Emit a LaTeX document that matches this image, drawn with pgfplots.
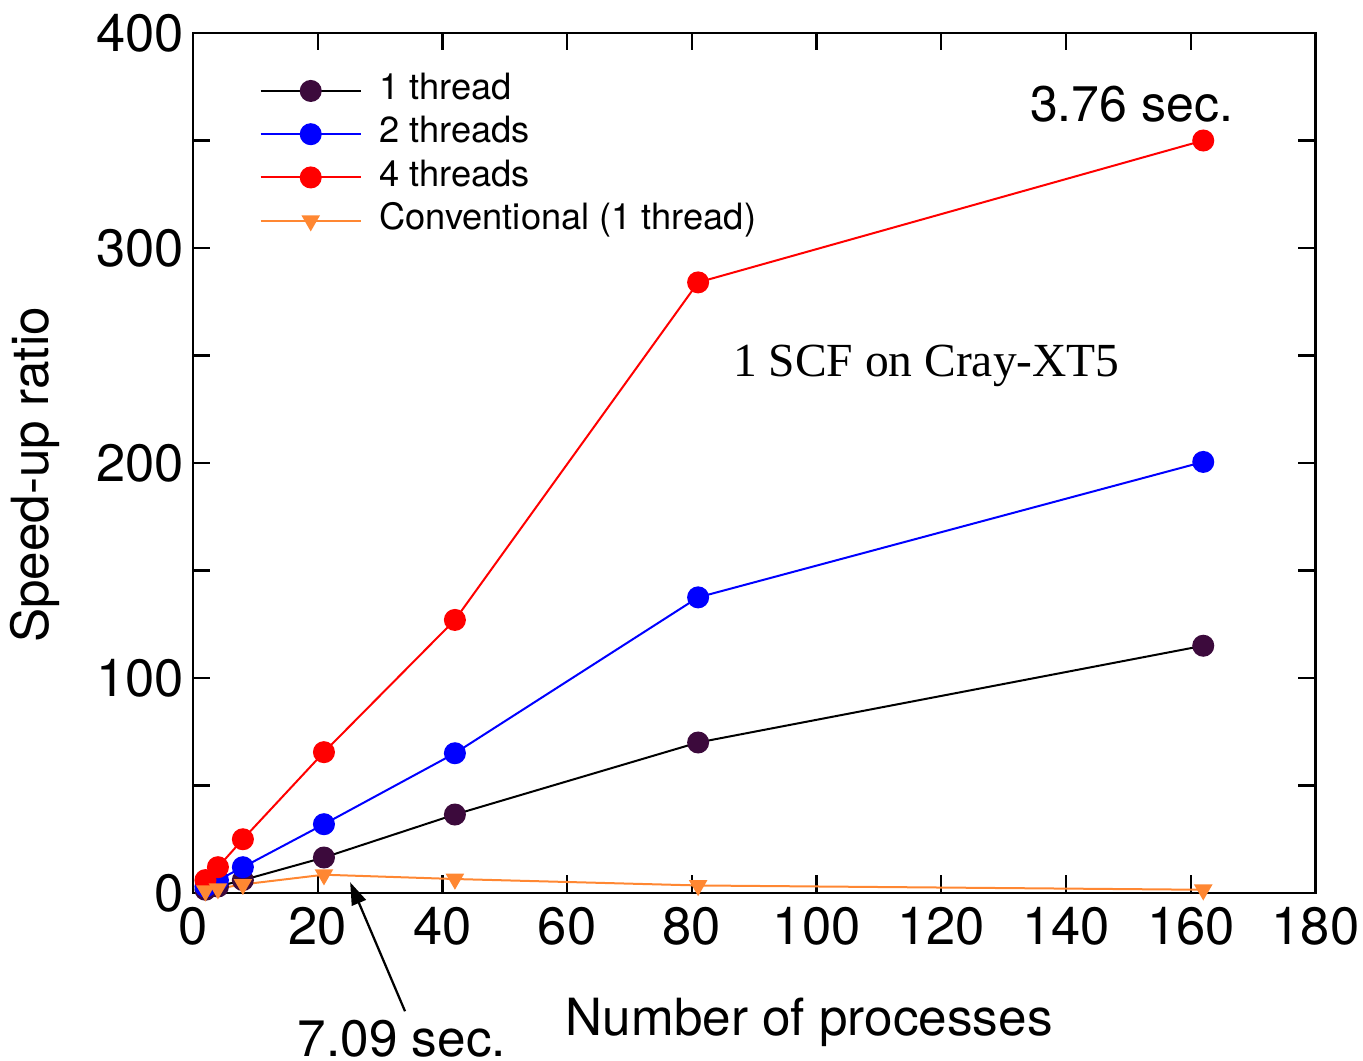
\documentclass[border=0pt]{standalone}
\usepackage{pgfplots}
\pgfplotsset{compat=1.18}
\usetikzlibrary{arrows.meta}
\usepackage{fontspec}
\setmainfont{TeX Gyre Heros}
\newfontfamily\timesfont{Liberation Serif}
\definecolor{dpurple}{RGB}{60,10,60}
\definecolor{corange}{RGB}{255,135,50}
\begin{document}
\begin{tikzpicture}
\begin{axis}[name=ax,
  scale only axis, width=449pt, height=344pt,
  xmin=0, xmax=180, ymin=0, ymax=400,
  xtick={0,20,...,180}, ytick={0,100,...,400},
  minor ytick={50,150,250,350},
  tick align=inside, major tick length=7pt, minor tick length=7pt,
  axis line style={line width=0.9pt}, every tick/.style={line width=0.9pt, black},
  /pgf/number format/assume math mode=true,
  tick label style={font=\fontsize{21}{24}\selectfont},
  xticklabel style={yshift=-2pt},
  xlabel={Number of processes}, ylabel={Speed-up ratio},
  xlabel style={font=\fontsize{20.5}{24}\selectfont, at={(axis description cs:0.549,-0.15)}, anchor=center},
  ylabel style={font=\fontsize{20.5}{24}\selectfont, at={(axis description cs:-0.141,0.486)}, anchor=center},
  legend style={draw=none, fill=none, at={(axis description cs:0.059,0.955)}, anchor=north west,
    font=\fontsize{14.5}{17}\selectfont, row sep=2.3pt, inner sep=0pt,
    nodes={inner sep=0pt, text height=11pt, text depth=4pt}},
  legend cell align=left,
  legend image code/.code={\draw[#1, mark=none] (0pt,0pt) -- (40pt,0pt); \draw[#1, only marks] plot coordinates {(20pt,0pt)}; \path (47pt,0pt);},
  clip=false,
]
\addplot[black, line width=0.8pt, mark=*, mark size=4pt, mark options={fill=dpurple, draw=dpurple}] coordinates {
(2,1.5) (4,3) (8,6) (21,16.5) (42,36.5) (81,70) (162,115)};
\addlegendentry{1 thread}
\addplot[blue, line width=0.8pt, mark=*, mark size=4pt, mark options={fill=blue, draw=blue}] coordinates {
(2,3) (4,6) (8,12) (21,32) (42,65) (81,137.5) (162,200.5)};
\addlegendentry{2 threads}
\addplot[red, line width=0.8pt, mark=*, mark size=4pt, mark options={fill=red, draw=red}] coordinates {
(2,6) (4,12) (8,25) (21,65.5) (42,127) (81,284) (162,350)};
\addlegendentry{4 threads}
\addplot[corange, line width=0.8pt, mark=triangle*, mark size=3.5pt, mark options={fill=corange, draw=corange, rotate=180}] coordinates {
(2,1) (4,2) (8,4) (21,8.5) (42,6.5) (81,3.5) (162,1.5)};
\addlegendentry{Conventional (1 thread)}
\node[font=\fontsize{20}{24}\selectfont] at (axis cs:150.5,367) {3.76 sec.};
\node[font=\timesfont\fontsize{19}{23}\selectfont] at (axis cs:117.6,245) {1 SCF on Cray-XT5};
\draw[-{Triangle[length=9pt,width=6pt]}, line width=0.9pt] (axis cs:34,-55) -- (axis cs:25.2,5);
\node[font=\fontsize{20.5}{24}\selectfont] at (axis cs:33.5,-68) {7.09 sec.};
\end{axis}
\pgfresetboundingbox
\path (ax.south west) ++(-77.2pt,-67.2pt) rectangle ++(545.2pt,424.4pt);
\end{tikzpicture}
\end{document}
